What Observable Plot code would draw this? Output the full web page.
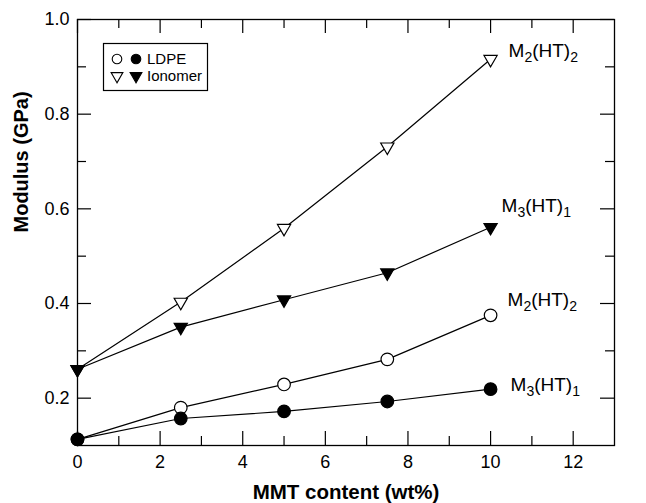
<!DOCTYPE html>
<html><head><meta charset="utf-8">
<script src="https://cdn.jsdelivr.net/npm/d3@7"></script>
<script src="https://cdn.jsdelivr.net/npm/@observablehq/plot@0.6"></script>
<style>
body{margin:0;background:#fff;}
#chart{position:relative;width:646px;height:503px;}
</style>
</head><body><div id="chart"></div>
<script>
// ---- data ----
const mmt = [0, 2.5, 5, 7.5, 10];
const ldpeM2 = [0.113, 0.180, 0.229, 0.282, 0.375];
const ldpeM3 = [0.113, 0.157, 0.172, 0.193, 0.219];
const ionM2 = [0.261, 0.403, 0.559, 0.731, 0.916];
const ionM3 = [0.261, 0.350, 0.408, 0.465, 0.561];
const seriesNames = ["M2(HT)2", "M3(HT)1", "M2(HT)2", "M3(HT)1"];
const polymers = ["Ionomer", "Ionomer", "LDPE", "LDPE"];
const xMajorTicks = [0, 2, 4, 6, 8, 10, 12];
const xMinorTicks = [1, 3, 5, 7, 9, 11];
const yMajorTicks = [0.2, 0.4, 0.6, 0.8, 1.0];
const yMinorTicks = [0.3, 0.5, 0.7, 0.9];
const xTitle = "MMT content (wt%)";
const yTitle = "Modulus (GPa)";
const legendItems = ["LDPE", "Ionomer"];

// ---- build table ----
const valueSets = [ionM2, ionM3, ldpeM2, ldpeM3];
const filledFlags = [false, true, false, true];
const rows = [];
valueSets.forEach((vals, s) => {
  vals.forEach((v, i) => rows.push({series: s, x: mmt[i], y: v, polymer: polymers[s], filled: filledFlags[s]}));
});
const lastPts = valueSets.map((vals, s) => ({series: s, x: mmt[mmt.length - 1], y: vals[vals.length - 1], label: seriesNames[s]}));
const labelDx = [18, 11, 17, 20];
const labelDy = [-2, -15, -9, 2];

const W = 646, H = 503, mL = 77, mR = 32, mT = 19, mB = 58;
const fw = W - mL - mR, fh = H - mT - mB;
const xDomain = [0, 13], yDomain = [0.1, 1.0];
const font = "'Liberation Sans', Arial, Helvetica, sans-serif";
const tickStyle = {stroke: "black", strokeWidth: 1.2};

const plot = Plot.plot({
  width: W, height: H,
  marginLeft: mL, marginRight: mR, marginTop: mT, marginBottom: mB,
  style: {fontFamily: font, background: "white", color: "black"},
  x: {domain: xDomain},
  y: {domain: yDomain},
  marks: [
    // inward ticks on all four sides
    Plot.ruleX(xMajorTicks, {x: d => d, insetTop: fh - 14, ...tickStyle}),
    Plot.ruleX(xMinorTicks, {x: d => d, insetTop: fh - 9, ...tickStyle}),
    Plot.ruleX(xMajorTicks, {x: d => d, insetBottom: fh - 14, ...tickStyle}),
    Plot.ruleX(xMinorTicks, {x: d => d, insetBottom: fh - 9, ...tickStyle}),
    Plot.ruleY(yMajorTicks, {y: d => d, insetRight: fw - 14, ...tickStyle}),
    Plot.ruleY(yMinorTicks, {y: d => d, insetRight: fw - 9, ...tickStyle}),
    Plot.ruleY(yMajorTicks, {y: d => d, insetLeft: fw - 14, ...tickStyle}),
    Plot.ruleY(yMinorTicks, {y: d => d, insetLeft: fw - 9, ...tickStyle}),
    Plot.frame({stroke: "black", strokeWidth: 1.3}),
    Plot.axisX(xMajorTicks, {tickSize: 0, tickPadding: 10, fontSize: 18, label: null, tickFormat: d => String(d)}),
    Plot.axisY(yMajorTicks, {tickSize: 0, tickPadding: 8, fontSize: 18, label: null, tickFormat: d3.format(".1f")}),
    Plot.text([xTitle], {frameAnchor: "bottom", dy: 47, text: d => d, fontSize: 20.5, fontWeight: "bold", lineAnchor: "middle"}),
    Plot.text([yTitle], {frameAnchor: "left", dx: -56, rotate: -90, text: d => d, fontSize: 20, fontWeight: "bold", lineAnchor: "middle"}),
    Plot.line(rows, {x: "x", y: "y", z: "series", stroke: "black", strokeWidth: 1.2}),
    Plot.dot(rows.filter(d => d.polymer === "LDPE"), {x: "x", y: "y", r: 6.3, symbol: "circle", stroke: "black", strokeWidth: 1.2, fill: d => d.filled ? "black" : "white"}),
    Plot.dot(rows.filter(d => d.polymer === "Ionomer"), {x: "x", y: "y", r: 4.9, symbol: "triangle", rotate: 180, stroke: "black", strokeWidth: 1.2, fill: d => d.filled ? "black" : "white"}),
    Plot.text(lastPts, {x: "x", y: "y", text: "label", textAnchor: "start", lineAnchor: "bottom", fontSize: 19})
  ]
});

// per-label offsets and subscripts
const svg = d3.select(plot);
svg.selectAll("text").filter(function() { return /^M\d\(HT\)\d$/.test(this.textContent); }).each(function(_, i) {
  const m = /^M(\d)\(HT\)(\d)$/.exec(this.textContent);
  const sel = d3.select(this);
  sel.attr("transform", (sel.attr("transform") || "") + ` translate(${labelDx[i]},${labelDy[i]})`);
  sel.text(null);
  sel.append("tspan").text("M");
  sel.append("tspan").attr("dy", 5).attr("font-size", "0.74em").text(m[1]);
  sel.append("tspan").attr("dy", -5).text("(HT)");
  sel.append("tspan").attr("dy", 5).attr("font-size", "0.74em").text(m[2]);
});

// legend box (inside plot area, upper left)
const lg = svg.append("g").attr("font-family", font).attr("font-size", 15).attr("text-anchor", "start");
lg.append("rect").attr("x", 103.5).attr("y", 43.5).attr("width", 104).attr("height", 47)
  .style("fill", "white").style("stroke", "black").style("stroke-width", "1.2px");
const legSym = [d3.symbolCircle, d3.symbolTriangle];
const legSize = [72, 60];
legendItems.forEach((name, i) => {
  const yy = 59 + i * 17;
  [false, true].forEach((filled, j) => {
    lg.append("path").attr("d", d3.symbol(legSym[i], legSize[i])())
      .attr("transform", `translate(${117 + j * 19},${yy})` + (i === 1 ? " rotate(180)" : ""))
      .style("fill", filled ? "black" : "white").style("stroke", "black").style("stroke-width", "1.1px");
  });
  lg.append("text").attr("x", 147).attr("y", yy).attr("dy", "0.36em").style("fill", "black").text(name);
});

document.getElementById("chart").appendChild(plot);
</script>
</body></html>
